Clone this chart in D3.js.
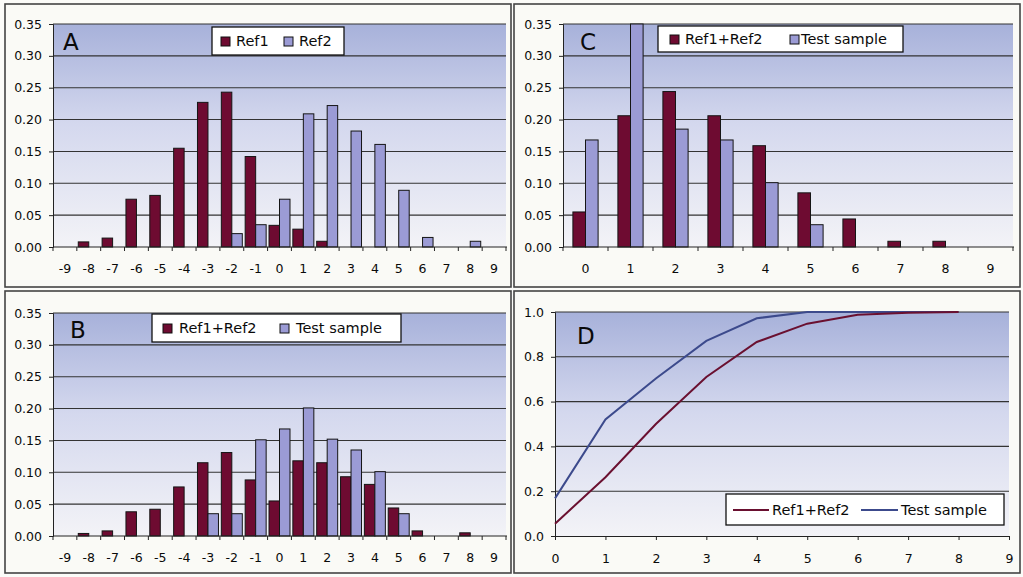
<!DOCTYPE html>
<html><head><meta charset="utf-8">
<script src="https://cdn.jsdelivr.net/npm/d3@7"></script>
<style>
html,body{margin:0;padding:0;background:#fbfbf8;}
svg text{font-family:"DejaVu Sans",Verdana,sans-serif;fill:#0a0a0a;}
</style></head>
<body>
<svg id="chart" width="1023" height="577"></svg>
<script>
// ---------- data ----------
const catsAB = [-9,-8,-7,-6,-5,-4,-3,-2,-1,0,1,2,3,4,5,6,7,8,9];
const ref1   = [0,0.008,0.014,0.075,0.081,0.155,0.227,0.243,0.142,0.034,0.028,0.009,0,0,0,0,0,0,0];
const ref2   = [0,0,0,0,0,0,0,0.021,0.035,0.075,0.209,0.222,0.182,0.161,0.089,0.015,0,0.009,0];
const mixB   = [0,0.004,0.008,0.038,0.042,0.077,0.115,0.131,0.088,0.055,0.118,0.115,0.093,0.081,0.044,0.008,0,0.005,0];
const testB  = [0,0,0,0,0,0,0.035,0.035,0.151,0.168,0.201,0.152,0.135,0.101,0.035,0,0,0,0];
const catsC  = [0,1,2,3,4,5,6,7,8,9];
const mixC   = [0.055,0.206,0.244,0.206,0.159,0.085,0.044,0.009,0.009,0];
const testC  = [0.168,0.35,0.185,0.168,0.101,0.035,0,0,0,0];
const xD     = [0,1,2,3,4,5,6,7,8];
const cumMix = [0.055,0.262,0.50,0.71,0.866,0.948,0.988,0.997,1.0];
const cumTest= [0.168,0.52,0.703,0.871,0.972,1.0,1.0,1.0,1.0];
const barTicks = [0,0.05,0.10,0.15,0.20,0.25,0.30,0.35];
const lineTicks = [0,0.2,0.4,0.6,0.8,1.0];
const xTicksD = [0,1,2,3,4,5,6,7,8,9];

const MAROON = "#6e0b31", LAV = "#9b9bd5", LRED = "#6a1030", LBLUE = "#3c4a8c";

const svg = d3.select("#chart");
const defs = svg.append("defs");
const grad = defs.append("linearGradient").attr("id","bg").attr("x1",0).attr("y1",0).attr("x2",0).attr("y2",1);
grad.append("stop").attr("offset","0%").attr("stop-color","#a7b1da");
grad.append("stop").attr("offset","45%").attr("stop-color","#d4d8ee");
grad.append("stop").attr("offset","100%").attr("stop-color","#f3f3f7");

// panel frames
const frames = [[5,4,506,283],[514,4,506,283],[5,291,506,282],[514,291,506,282]];
svg.selectAll("rect.frame").data(frames).enter().append("rect").attr("class","frame")
  .attr("x",d=>d[0]).attr("y",d=>d[1]).attr("width",d=>d[2]).attr("height",d=>d[3])
  .attr("fill","#fafaf6").attr("stroke","#444").attr("stroke-width",1.6);

function plotBg(L,T,R,B){
  svg.append("rect").attr("x",L).attr("y",T).attr("width",R-L).attr("height",B-T).attr("fill","url(#bg)");
}
function yAxis(y,L,R,ticks,fmt){
  svg.append("g").selectAll("line").data(ticks.filter(t=>t>0)).enter().append("line")
    .attr("x1",L).attr("x2",R).attr("y1",d=>y(d)).attr("y2",d=>y(d))
    .attr("stroke","#333").attr("stroke-width",1.1);
  const ax = svg.append("g").attr("transform",`translate(${L},0)`)
    .call(d3.axisLeft(y).tickValues(ticks).tickFormat(fmt).tickSize(4).tickPadding(7));
  ax.select(".domain").attr("stroke","#222");
  ax.selectAll(".tick line").attr("stroke","#222");
  ax.selectAll("text").attr("font-size",12.5).attr("fill","#0a0a0a");
}
function legendBox(x,y,w,h){
  svg.append("rect").attr("x",x).attr("y",y).attr("width",w).attr("height",h)
    .attr("fill","#ffffff").attr("stroke","#111").attr("stroke-width",1.3);
}
function legendSwatch(x,y,c){
  svg.append("rect").attr("x",x).attr("y",y).attr("width",9).attr("height",9)
    .attr("fill",c).attr("stroke","#111").attr("stroke-width",1);
}
function legendText(x,y,t){
  svg.append("text").attr("x",x).attr("y",y).attr("font-size",14.5).text(t);
}

function barPanel(cfg){
  const {L,T,R,B,cats,series,colors,groupRatio,letter,lx,ly} = cfg;
  plotBg(L,T,R,B);
  const x = d3.scaleBand().domain(cats).range([L,R]).padding(0);
  const y = d3.scaleLinear().domain([0,0.35]).range([B,T]);
  yAxis(y,L,R,barTicks,d3.format(".2f"));
  const gw = x.bandwidth()*groupRatio;
  const inner = d3.scaleBand().domain(series.map((s,i)=>i))
    .range([(x.bandwidth()-gw)/2,(x.bandwidth()+gw)/2]).padding(0);
  series.forEach((vals,si)=>{
    svg.append("g").selectAll("rect").data(cats.map((c,i)=>({c,v:vals[i]})).filter(d=>d.v>0))
      .enter().append("rect")
      .attr("x",d=>x(d.c)+inner(si)).attr("width",inner.bandwidth())
      .attr("y",d=>y(Math.min(d.v,0.35))).attr("height",d=>B-y(Math.min(d.v,0.35)))
      .attr("fill",colors[si]).attr("stroke","#151515").attr("stroke-width",1);
  });
  const ax = svg.append("g").attr("transform",`translate(0,${B})`)
    .call(d3.axisBottom(x).tickSize(0).tickPadding(17));
  ax.select(".domain").remove();
  ax.selectAll("text").attr("font-size",12.5).attr("fill","#0a0a0a");
  svg.append("line").attr("x1",L).attr("x2",R+1).attr("y1",B).attr("y2",B).attr("stroke","#222");
  svg.append("g").selectAll("line").data(cats.concat(["end"])).enter().append("line")
    .attr("x1",d=>d==="end"?R:x(d)).attr("x2",d=>d==="end"?R:x(d))
    .attr("y1",B).attr("y2",B+4).attr("stroke","#222");
  svg.append("text").attr("x",lx).attr("y",ly).attr("font-size",23).text(letter);
}

// Panel A
barPanel({L:53,T:24,R:506,B:247,cats:catsAB,series:[ref1,ref2],colors:[MAROON,LAV],groupRatio:0.88,letter:"A",lx:63,ly:50});
legendBox(212,27,132,28);
legendSwatch(221,37,MAROON); legendText(236,46,"Ref1");
legendSwatch(284,37,LAV); legendText(299,46,"Ref2");

// Panel C
barPanel({L:563,T:24,R:1013,B:247,cats:catsC,series:[mixC,testC],colors:[MAROON,LAV],groupRatio:0.56,letter:"C",lx:580,ly:50});
legendBox(658,26,245,26);
legendSwatch(670,35,MAROON); legendText(685,44,"Ref1+Ref2");
legendSwatch(790,35,LAV); legendText(801,44,"Test sample");

// Panel B
barPanel({L:53,T:313,R:506,B:536,cats:catsAB,series:[mixB,testB],colors:[MAROON,LAV],groupRatio:0.88,letter:"B",lx:70,ly:338});
legendBox(152,314,249,28);
legendSwatch(163,324,MAROON); legendText(179,333,"Ref1+Ref2");
legendSwatch(280,324,LAV); legendText(296,333,"Test sample");

// Panel D
(function(){
  const L=555,T=312,R=1009,B=536;
  plotBg(L,T,R,B);
  const x = d3.scaleLinear().domain([0,9]).range([L,R]);
  const y = d3.scaleLinear().domain([0,1]).range([B,T]);
  yAxis(y,L,R,lineTicks,d3.format(".1f"));
  const ax = svg.append("g").attr("transform",`translate(0,${B})`)
    .call(d3.axisBottom(x).tickValues(xTicksD).tickFormat(d3.format("d")).tickSize(4).tickPadding(14));
  ax.select(".domain").attr("stroke","#222");
  ax.selectAll(".tick line").attr("stroke","#222");
  ax.selectAll("text").attr("font-size",12.5).attr("fill","#0a0a0a");
  const line = d3.line().x((d,i)=>x(xD[i])).y(d=>y(d));
  svg.append("path").attr("d",line(cumTest)).attr("fill","none").attr("stroke",LBLUE).attr("stroke-width",2);
  svg.append("path").attr("d",line(cumMix)).attr("fill","none").attr("stroke",LRED).attr("stroke-width",2);
  svg.append("text").attr("x",577).attr("y",344).attr("font-size",23).text("D");
  legendBox(726,494,278,31);
  svg.append("line").attr("x1",733).attr("x2",769).attr("y1",510).attr("y2",510).attr("stroke",LRED).attr("stroke-width",2);
  legendText(772,515,"Ref1+Ref2");
  svg.append("line").attr("x1",861).attr("x2",898).attr("y1",510).attr("y2",510).attr("stroke",LBLUE).attr("stroke-width",2);
  legendText(901,515,"Test sample");
})();
</script>
</body></html>
